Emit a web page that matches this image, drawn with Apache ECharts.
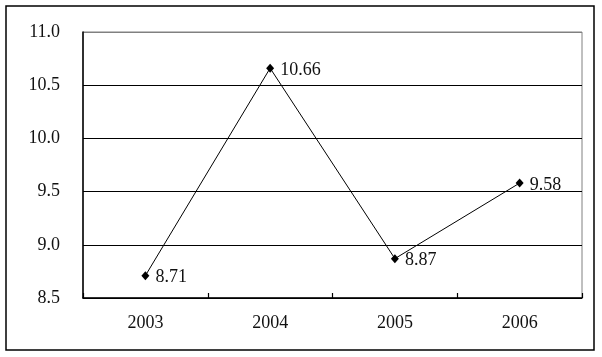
<!DOCTYPE html>
<html>
<head>
<meta charset="utf-8">
<script src="https://cdn.jsdelivr.net/npm/echarts@6/dist/echarts.min.js"></script>
<style>
html,body{margin:0;padding:0;background:#fff;}
#chart{width:602px;height:357px;}
</style>
</head>
<body>
<div id="chart"></div>
<script>
var categories = ['2003', '2004', '2005', '2006'];
var values = [8.71, 10.66, 8.87, 9.58];
var yMin = 8.5, yMax = 11.0, yStep = 0.5;

var chart = echarts.init(document.getElementById('chart'), null, {renderer: 'canvas'});
var font = 'Liberation Serif';
chart.setOption({
  backgroundColor: '#fff',
  animation: false,
  graphic: [{
    type: 'rect',
    shape: {x: 6, y: 6, width: 588, height: 344},
    style: {fill: 'none', stroke: '#000', lineWidth: 1.5},
    silent: true
  }],
  grid: {left: 83, right: 20, top: 32, bottom: 59, show: true, borderColor: '#808080', borderWidth: 1, backgroundColor: 'transparent'},
  xAxis: {
    type: 'category',
    data: categories,
    boundaryGap: true,
    axisLine: {lineStyle: {color: '#000', width: 1.5}},
    axisTick: {show: true, inside: true, length: 5, lineStyle: {color: '#000', width: 1.2}},
    axisLabel: {color: '#111', fontFamily: font, fontSize: 18, margin: 16}
  },
  yAxis: {
    type: 'value',
    min: yMin, max: yMax, interval: yStep,
    axisLine: {show: true, lineStyle: {color: '#000', width: 1.5}},
    axisTick: {show: false},
    axisLabel: {color: '#111', fontFamily: font, fontSize: 18, margin: 23, padding: [4, 0, 0, 0],
      formatter: function (v) { return v.toFixed(1); }},
    splitLine: {show: true, lineStyle: {color: ['#000', '#000', '#000', '#000', '#000', '#808080'], width: 1.2}}
  },
  series: [{
    type: 'line',
    data: values,
    symbol: 'diamond',
    symbolSize: [8, 9],
    itemStyle: {color: '#000'},
    lineStyle: {color: '#000', width: 1},
    label: {show: true, position: 'right', distance: 6, offset: [0, 2], color: '#111', fontFamily: font, fontSize: 18,
      formatter: function (p) { return p.value.toFixed(2); }}
  }]
});
</script>
</body>
</html>
